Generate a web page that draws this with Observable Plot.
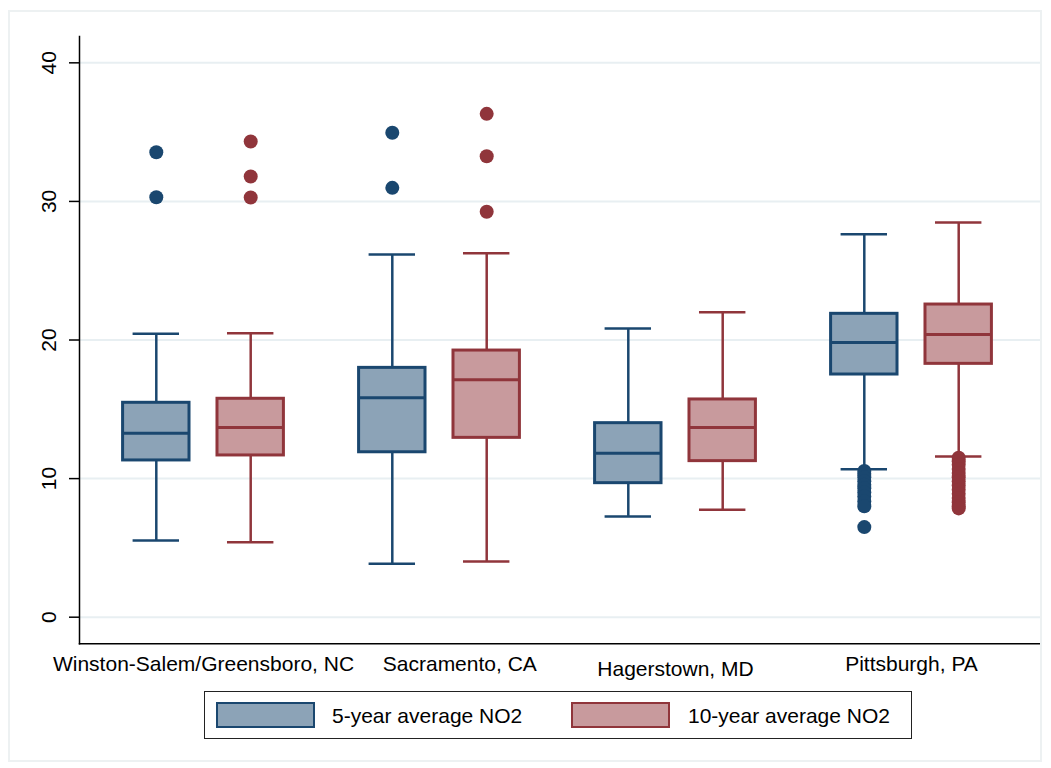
<!DOCTYPE html>
<html>
<head>
<meta charset="utf-8">
<script src="https://cdn.jsdelivr.net/npm/d3@7"></script>
<script src="https://cdn.jsdelivr.net/npm/@observablehq/plot@0.6"></script>
<style>
  html, body { margin: 0; padding: 0; background: #ffffff; }
  body { font-family: "Liberation Sans", Arial, Helvetica, sans-serif; }
  #wrap { position: relative; width: 1051px; height: 768px; overflow: hidden; }
  #chart { position: absolute; left: 0; top: 0; }
  #outer { position: absolute; left: 8px; top: 10px; width: 1030px; height: 748px;
           border: 2px solid #edf1f2; pointer-events: none; }
  #legend-box { position: absolute; left: 204px; top: 691px; width: 706px; height: 46px;
                border: 1.5px solid #222; }
  .sw { position: absolute; top: 702px; height: 22px; width: 95px; }
  .lt { position: absolute; top: 705px; font-size: 21px; line-height: 21px; color: #000; white-space: nowrap; }
</style>
</head>
<body>
<div id="wrap">
  <div id="chart"></div>
  <div id="outer"></div>
  <div id="legend-box"></div>
  <div id="sw0" class="sw"></div>
  <div id="lt0" class="lt"></div>
  <div id="sw1" class="sw"></div>
  <div id="lt1" class="lt"></div>
</div>
<script>
// ---------------- data ----------------
const cities = ["Winston-Salem/Greensboro, NC", "Sacramento, CA", "Hagerstown, MD", "Pittsburgh, PA"];
const series = ["5-year average NO2", "10-year average NO2"];

const lower5  = [5.53, 3.85, 7.27, 10.68];
const q1_5    = [11.31, 11.90, 9.67, 17.51];
const median5 = [13.28, 15.83, 11.83, 19.82];
const q3_5    = [15.47, 17.99, 14.00, 21.89];
const upper5  = [20.45, 26.17, 20.83, 27.63];

const lower10  = [5.41, 4.02, 7.75, 11.59];
const q1_10    = [11.67, 12.94, 11.26, 18.28];
const median10 = [13.69, 17.13, 13.69, 20.40];
const q3_10    = [15.76, 19.24, 15.71, 22.56];
const upper10  = [20.49, 26.26, 22.01, 28.48];

const outliers5 = [
  [33.55, 30.30],
  [34.95, 30.98],
  [],
  [10.55, 10.35, 10.1, 9.8, 9.55, 9.3, 9.0, 8.7, 8.35, 8.0, 6.5]
];
const outliers10 = [
  [34.32, 31.80, 30.28],
  [36.32, 33.26, 29.25],
  [],
  [11.5, 11.25, 11.0, 10.7, 10.4, 10.1, 9.8, 9.5, 9.2, 8.9, 8.6, 8.3, 8.0, 7.85]
];

const yTicks = [0, 10, 20, 30, 40];

// ---------------- styles ----------------
const strokeColors = ["#1a476f", "#90353b"];
const fillColors   = ["#8ca3b7", "#c89a9d"];

const W = 1051, H = 680;
const mL = 79, mR = 11, mT = 36, mB = H - 643.3;
const padO = 0.031, alignX = 0.376;
const step = (W - mL - mR) / (cities.length + 2 * padO);
const boxW = 67, capW = 47, off = 47.2;
const boxInset = (step - boxW) / 2;
const capInset = (step - capW) / 2;

// build tables
const stats = [
  {lo: lower5, q1: q1_5, med: median5, q3: q3_5, hi: upper5, out: outliers5},
  {lo: lower10, q1: q1_10, med: median10, q3: q3_10, hi: upper10, out: outliers10}
];

const marks = [
  Plot.gridY(yTicks, {stroke: "#e8eff2", strokeOpacity: 1, strokeWidth: 2})
];

stats.forEach((s, si) => {
  const rows = cities.map((c, i) => ({city: c, series: series[si], lo: s.lo[i], q1: s.q1[i], med: s.med[i], q3: s.q3[i], hi: s.hi[i]}));
  const outs = cities.flatMap((c, i) => s.out[i].map(v => ({city: c, series: series[si], value: v})));
  const dx = si === 0 ? -off : off;
  const stroke = strokeColors[si], fill = fillColors[si];
  marks.push(
    Plot.ruleX(rows, {x: "city", y1: "q3", y2: "hi", stroke, strokeWidth: 2.5, dx}),
    Plot.ruleX(rows, {x: "city", y1: "lo", y2: "q1", stroke, strokeWidth: 2.5, dx}),
    Plot.tickY(rows, {x: "city", y: "hi", stroke, strokeWidth: 2.5, dx, insetLeft: capInset, insetRight: capInset}),
    Plot.tickY(rows, {x: "city", y: "lo", stroke, strokeWidth: 2.5, dx, insetLeft: capInset, insetRight: capInset}),
    Plot.barY(rows, {x: "city", y1: "q1", y2: "q3", fill, stroke, strokeWidth: 3, dx, insetLeft: boxInset, insetRight: boxInset}),
    Plot.tickY(rows, {x: "city", y: "med", stroke, strokeWidth: 3, dx, insetLeft: boxInset, insetRight: boxInset}),
    Plot.dot(outs, {x: "city", y: "value", r: 7, fill: stroke, stroke: "none", dx})
  );
});

marks.push(
  Plot.frame({anchor: "left", stroke: "#000", strokeWidth: 1.5}),
  Plot.frame({anchor: "bottom", stroke: "#000", strokeWidth: 1.5}),
  Plot.axisY({ticks: yTicks, tickSize: 10, tickFormat: () => "", stroke: "#000", strokeWidth: 1.5, label: null}),
  Plot.text(yTicks, {y: d => d, text: d => String(d), frameAnchor: "left", dx: -30.7, rotate: -90,
                     textAnchor: "middle", lineAnchor: "middle", fontSize: 21, fill: "#000"}),
  Plot.text(cities, {filter: d => d !== "Sacramento, CA" && d !== "Hagerstown, MD", x: d => d, text: d => d,
                     frameAnchor: "bottom", lineAnchor: "top", dy: 12.7, fontSize: 21, fill: "#000"}),
  Plot.text(cities, {filter: d => d === "Sacramento, CA", x: d => d, text: d => d,
                     frameAnchor: "bottom", lineAnchor: "top", dy: 12.7, dx: 20.3, fontSize: 21, fill: "#000"}),
  Plot.text(cities, {filter: d => d === "Hagerstown, MD", x: d => d, text: d => d,
                     frameAnchor: "bottom", lineAnchor: "top", dy: 17.7, fontSize: 21, fill: "#000"})
);

const chart = Plot.plot({
  width: W, height: H,
  marginLeft: mL, marginRight: mR, marginTop: mT, marginBottom: mB,
  style: {fontFamily: '"Liberation Sans", Arial, Helvetica, sans-serif', fontSize: "21px", background: "transparent", color: "#000", overflow: "visible"},
  x: {type: "band", domain: cities, paddingInner: 0, paddingOuter: padO, align: alignX, axis: null},
  y: {domain: [-1.92, 41.9], label: null},
  marks
});
document.getElementById("chart").appendChild(chart);

// ---------------- legend (HTML, below the plot area) ----------------
const swLeft = [215.7, 570.9], txtLeft = [332, 688];
series.forEach((name, i) => {
  const sw = document.getElementById("sw" + i);
  sw.style.left = swLeft[i] + "px";
  sw.style.background = fillColors[i];
  sw.style.border = "2px solid " + strokeColors[i];
  const lt = document.getElementById("lt" + i);
  lt.style.left = txtLeft[i] + "px";
  lt.textContent = name;
});
</script>
</body>
</html>
